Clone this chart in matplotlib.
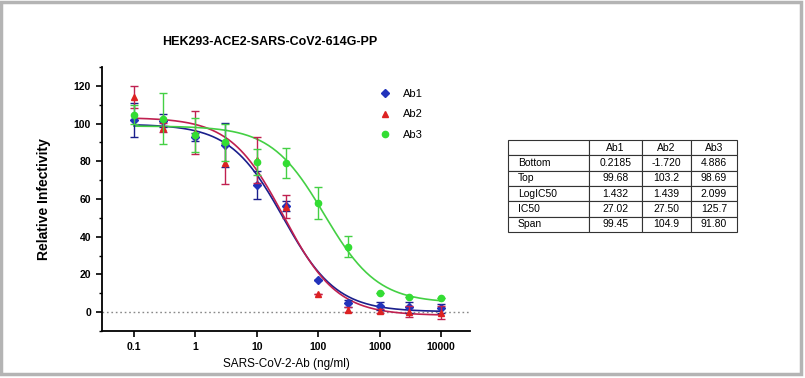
import numpy as np
import matplotlib
matplotlib.use("Agg")
import matplotlib.pyplot as plt
from matplotlib.patches import Rectangle
from matplotlib.lines import Line2D
from matplotlib.ticker import FixedLocator, MultipleLocator

plt.rcParams['font.family'] = ['Liberation Sans', 'DejaVu Sans']

# concentrazioni (ng/ml)
conc = [0.1, 0.3, 1, 3, 10, 30, 100, 300, 1000, 3000, 10000]

ab1 = [101.8, 101.5, 92.8, 88.7, 67.3, 56.3, 17.0, 4.6, 3.2, 2.5, 2.0]
ab1_err = [9.0, 3.5, 2.0, 11.5, 7.5, 2.5, 0.0, 2.0, 2.0, 3.0, 2.5]
ab2 = [114.0, 97.9, 95.2, 79.0, 80.7, 56.0, 9.4, 1.4, 0.7, 0.3, -0.2]
ab2_err = [6.0, 2.5, 11.5, 10.8, 12.0, 6.0, 0.0, 1.5, 1.0, 3.0, 3.5]
ab3 = [104.6, 102.5, 94.0, 90.0, 79.5, 79.0, 57.7, 34.7, 10.3, 7.8, 7.4]
ab3_err = [5.0, 13.5, 9.0, 10.0, 7.0, 8.0, 8.5, 5.5, 0.0, 0.0, 0.0]

# parametri del fit (tabella)
names = ["Ab1", "Ab2", "Ab3"]
bottom = [0.2185, -1.720, 4.886]
top = [99.68, 103.2, 98.69]
log_ic50 = [1.432, 1.439, 2.099]
hill = [-1.0, -1.0, -1.0]  # stimata dal grafico

row_labels = ["Bottom", "Top", "LogIC50", "IC50", "Span"]
table_vals = [
    ["0.2185", "-1.720", "4.886"],
    ["99.68", "103.2", "98.69"],
    ["1.432", "1.439", "2.099"],
    ["27.02", "27.50", "125.7"],
    ["99.45", "104.9", "91.80"],
]

colors = ["#2233bb", "#dd2222", "#33dd33"]
curve_colors = ["#1a1f8c", "#c02050", "#44d044"]
markers = ["D", "^", "o"]
msizes = [4, 5, 4.5]

fig = plt.figure(figsize=(8.05, 3.78), dpi=100)

# cornice grigia
fig.patches.append(Rectangle((0.0015, 0.01), 0.9935, 0.986, transform=fig.transFigure,
                             fill=False, edgecolor="#b4b4b4", linewidth=2.5))

ax = fig.add_axes([0.1267, 0.1243, 0.4572, 0.6985])
ax.set_xscale("log")
ax.set_xlim(0.0301, 29650)
ax.set_ylim(-10, 130)

ax.axhline(0, color="#888888", linestyle=(0, (1.2, 2.0)), linewidth=1.0, zorder=1)

xs = np.logspace(-1, 4, 300)
data = [(ab1, ab1_err), (ab2, ab2_err), (ab3, ab3_err)]
for i in range(3):
    y = bottom[i] + (top[i] - bottom[i]) / (1 + 10 ** ((log_ic50[i] - np.log10(xs)) * hill[i]))
    ax.plot(xs, y, color=curve_colors[i], linewidth=1.2, zorder=2)
for i in range(3):
    vals, err = data[i]
    ax.errorbar(conc, vals, yerr=err, fmt=markers[i], color=colors[i], ecolor=curve_colors[i],
                markersize=msizes[i], elinewidth=1.0, capsize=3, capthick=1.0, zorder=3 + i)

ax.xaxis.set_major_locator(FixedLocator([0.1, 1, 10, 100, 1000, 10000]))
ax.xaxis.set_minor_locator(FixedLocator([]))
ax.set_xticklabels(["0.1", "1", "10", "100", "1000", "10000"])
ax.yaxis.set_major_locator(FixedLocator([0, 20, 40, 60, 80, 100, 120]))
ax.yaxis.set_minor_locator(MultipleLocator(10))
ax.tick_params(axis="both", which="major", direction="out", length=4, width=1.2,
               labelsize=7.5, pad=4)
ax.tick_params(axis="y", which="minor", direction="out", length=2.5, width=1.0)
for lbl in ax.get_xticklabels() + ax.get_yticklabels():
    lbl.set_fontweight("bold")

for s in ["top", "right"]:
    ax.spines[s].set_visible(False)
for s in ["left", "bottom"]:
    ax.spines[s].set_linewidth(1.3)

fig.text(270 / 805, 1 - 42 / 378, "HEK293-ACE2-SARS-CoV2-614G-PP", fontsize=9,
         fontweight="bold", ha="center", va="center")
ax.set_ylabel("Relative Infectivity", fontsize=10, fontweight="bold", labelpad=16)
ax.set_xlabel("SARS-CoV-2-Ab (ng/ml)", fontsize=8.5, labelpad=4)

handles = [Line2D([], [], linestyle="none", marker=markers[i], color=colors[i],
                  markersize=msizes[i]) for i in range(3)]
ax.legend(handles, names, loc="upper left", bbox_to_anchor=(0.728, 0.955), frameon=False,
          fontsize=8, handletextpad=1.1, labelspacing=0.95, handlelength=1.0)

# tabella dei parametri
tax = fig.add_axes([508 / 805, 1 - 232 / 378, 229 / 805, 92 / 378])
tax.axis("off")
cells = [[""] + names] + [[row_labels[r]] + table_vals[r] for r in range(len(row_labels))]
tbl = tax.table(cellText=cells, bbox=[0, 0, 1, 1], cellLoc="center",
                colWidths=[81, 53, 49, 46])
tbl.auto_set_font_size(False)
tbl.set_fontsize(7.5)
for (r, c), cell in tbl.get_celld().items():
    cell.set_linewidth(0.8)
    cell.set_edgecolor("#333333")
    if c == 0:
        cell.get_text().set_horizontalalignment("left")
        cell.PAD = 0.12

fig.savefig("out.png", dpi=100)
